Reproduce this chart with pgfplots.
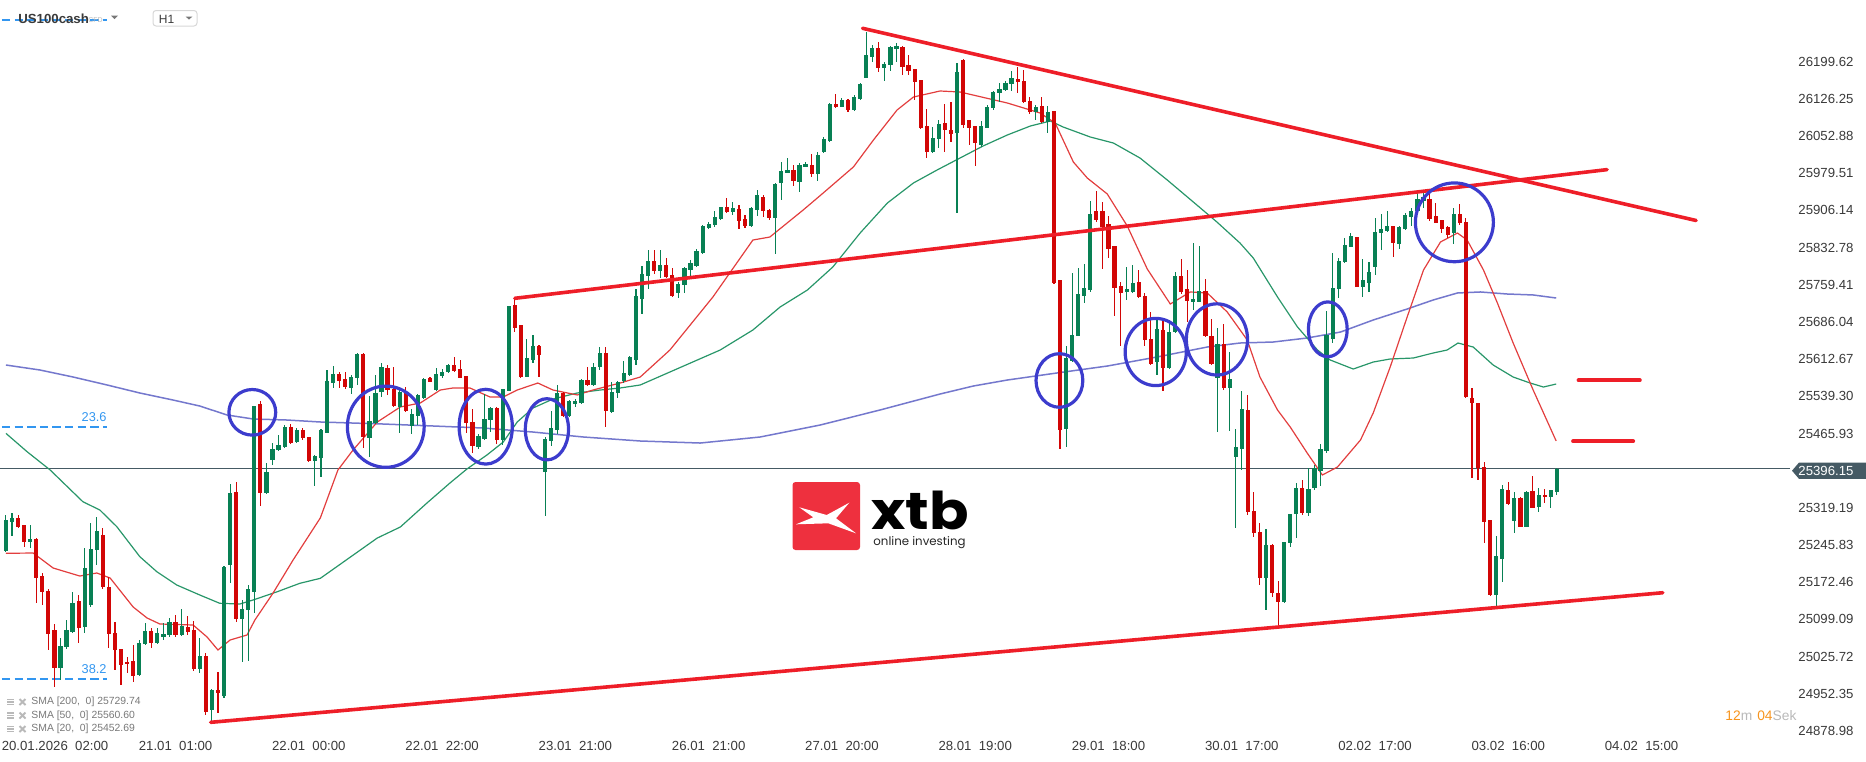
\documentclass[border=0pt]{standalone}
\usepackage{fontspec}
\setmainfont{Liberation Sans}
\newfontfamily\poppins{Poppins}
\usepackage{graphicx}
\usepackage{pgfplots}
\usepackage{pgfplotstable}
\pgfplotsset{compat=1.18}

\definecolor{cgreen}{RGB}{8,128,84}
\definecolor{cred}{RGB}{210,6,6}
\definecolor{tred}{RGB}{238,30,40}
\definecolor{smaA}{RGB}{226,62,62}
\definecolor{smaB}{RGB}{40,150,105}
\definecolor{smaC}{RGB}{92,96,196}
\definecolor{circblue}{RGB}{60,60,205}
\definecolor{fibblue}{RGB}{50,150,240}
\definecolor{slate}{RGB}{69,90,100}
\definecolor{tickgrey}{RGB}{58,58,58}
\definecolor{lgrey}{RGB}{120,120,120}
\definecolor{llgrey}{RGB}{185,185,185}
\definecolor{boxgrey}{RGB}{215,215,215}
\definecolor{orng}{RGB}{247,148,29}
\definecolor{xtbred}{RGB}{238,48,62}

\pgfplotstableread{
n o h l c
-6 25234.7 25305.1 25232.0 25295.2
-5 25291.9 25308.4 25263.7 25298.5
-4 25298.5 25305.1 25278.8 25282.1
-3 25285.4 25286.0 25242.6 25252.5
-2 25252.5 25285.4 25239.3 25257.8
-1 25257.8 25259.1 25130.8 25180.2
0 25184.8 25190.0 25127.6 25153.9
1 25155.2 25158.5 25038.8 25069.7
2 25078.2 25090.1 24966.4 25002.6
3 25002.6 25061.8 24979.6 25046.7
4 25044.0 25098.0 25040.0 25078.2
5 25074.9 25153.9 25072.0 25130.8
6 25135.4 25147.3 25053.2 25081.5
7 25083.5 25239.3 25071.7 25199.9
8 25127.6 25290.0 25124.3 25237.4
9 25236.1 25301.8 25206.5 25274.2
10 25265.6 25278.8 25160.0 25163.7
11 25163.7 25183.4 25042.1 25069.7
12 25071.7 25094.7 24999.3 25038.8
13 25040.8 25041.0 24969.7 25009.2
14 25015.8 25025.6 24992.7 25010.5
15 25017.1 25048.6 24976.3 24987.5
16 24989.5 25058.5 24987.0 25051.9
17 25050.6 25091.4 25048.6 25076.3
18 25076.3 25081.5 25042.1 25051.9
19 25051.9 25081.5 25050.0 25073.0
20 25065.1 25091.4 25058.5 25070.3
21 25068.4 25101.2 25065.1 25094.7
22 25094.7 25107.8 25065.1 25068.4
23 25068.4 25119.0 25066.0 25086.1
24 25084.8 25105.8 25068.4 25074.9
25 25078.2 25096.6 24998.0 25000.6
26 25000.6 25061.8 24994.1 25026.9
27 25026.9 25032.2 24910.5 24917.1
28 24920.4 24961.0 24897.4 24959.9
29 24959.9 24996.0 24915.1 24953.3
30 24948.0 25204.0 24943.4 25203.2
31 25206.5 25365.6 25170.3 25347.8
32 25349.8 25369.5 25094.7 25099.3
33 25099.9 25137.4 25015.8 25119.0
34 25117.7 25167.0 25017.7 25158.5
35 25153.9 25521.0 25111.1 25520.1
36 25523.4 25530.0 25323.5 25349.2
37 25349.2 25407.0 25347.0 25390.6
38 25413.6 25446.5 25403.7 25434.7
39 25433.3 25462.9 25431.0 25443.2
40 25439.9 25482.7 25438.0 25479.4
41 25479.4 25484.0 25445.2 25446.5
42 25448.5 25476.1 25446.5 25472.8
43 25472.8 25476.1 25454.0 25456.4
44 25459.6 25460.0 25410.3 25411.6
45 25412.3 25423.4 25362.3 25421.5
46 25418.2 25474.1 25380.7 25472.8
47 25467.5 25591.1 25466.2 25569.4
48 25564.8 25599.0 25555.0 25582.6
49 25582.6 25587.8 25555.0 25570.1
50 25572.7 25587.8 25553.0 25558.3
51 25555.0 25581.3 25543.1 25578.0
52 25574.7 25625.3 25561.5 25622.7
53 25622.7 25624.0 25436.6 25459.6
54 25456.3 25539.8 25420.2 25490.5
55 25485.9 25581.3 25484.0 25545.1
56 25548.4 25604.3 25538.5 25596.4
57 25595.7 25601.0 25541.8 25551.7
58 25553.7 25597.7 25518.8 25520.8
59 25518.8 25555.0 25467.5 25548.4
60 25546.4 25558.3 25508.9 25510.9
61 25481.3 25514.2 25464.2 25504.3
62 25501.0 25543.8 25482.6 25541.8
63 25536.6 25574.7 25534.6 25572.7
64 25576.0 25578.0 25567.0 25568.1
65 25551.7 25594.4 25550.0 25583.2
66 25580.0 25592.5 25576.0 25587.2
67 25586.5 25602.3 25584.6 25600.3
68 25600.9 25617.4 25588.0 25589.8
69 25592.5 25610.9 25574.7 25576.0
70 25579.3 25580.0 25466.2 25485.9
71 25488.6 25513.5 25426.7 25441.9
72 25439.9 25464.2 25434.6 25460.9
73 25455.7 25543.1 25453.0 25494.5
74 25492.5 25518.8 25469.5 25516.8
75 25516.8 25518.8 25445.1 25453.0
76 25453.0 25554.0 25443.2 25553.7
77 25550.4 25718.0 25549.7 25717.4
78 25719.4 25732.5 25666.8 25674.7
79 25679.9 25681.0 25574.7 25578.0
80 25578.0 25653.0 25576.7 25615.5
81 25610.9 25660.2 25604.3 25638.5
82 25638.5 25640.5 25578.0 25620.7
83 25389.3 25459.6 25303.1 25455.0
84 25451.1 25510.3 25441.2 25476.1
85 25472.8 25561.5 25464.9 25546.4
86 25546.4 25548.4 25499.1 25501.0
87 25501.0 25532.0 25499.1 25530.0
88 25524.1 25533.9 25518.8 25530.0
89 25525.4 25573.0 25524.0 25571.4
90 25571.4 25597.7 25560.2 25561.5
91 25561.5 25605.6 25560.2 25597.7
92 25596.4 25637.2 25591.1 25625.3
93 25625.3 25637.2 25478.0 25510.9
94 25508.9 25568.1 25507.0 25548.4
95 25545.1 25570.0 25535.2 25568.1
96 25570.1 25608.9 25564.8 25584.6
97 25581.3 25618.8 25580.0 25616.1
98 25610.9 25750.3 25601.0 25737.1
99 25731.2 25796.3 25701.6 25780.5
100 25776.6 25827.9 25750.3 25806.8
101 25806.8 25827.9 25780.5 25787.1
102 25787.1 25827.9 25772.0 25798.3
103 25798.3 25812.7 25773.0 25775.2
104 25778.5 25791.7 25735.0 25737.1
105 25742.4 25765.4 25732.5 25760.1
106 25758.8 25795.0 25742.4 25793.0
107 25788.4 25808.1 25775.2 25802.9
108 25796.3 25829.2 25795.0 25826.5
109 25822.6 25877.2 25821.0 25875.9
110 25871.9 25882.4 25868.6 25879.1
111 25877.2 25904.8 25873.9 25893.6
112 25889.0 25913.3 25888.0 25912.0
113 25912.0 25929.8 25900.2 25902.2
114 25903.5 25921.9 25896.9 25910.1
115 25908.1 25916.6 25869.3 25885.7
116 25889.0 25896.9 25870.6 25875.9
117 25875.9 25912.0 25873.9 25910.1
118 25906.8 25946.2 25895.6 25936.4
119 25933.1 25936.4 25893.6 25905.5
120 25906.8 25908.1 25887.0 25891.6
121 25891.6 25959.4 25820.0 25958.1
122 25960.7 26000.8 25926.5 25983.7
123 25980.4 26008.7 25979.1 25985.7
124 25985.7 25995.5 25954.8 25964.0
125 25962.7 26000.1 25942.9 25995.5
126 25992.3 26002.1 25991.0 25997.5
127 25995.5 26016.6 25972.5 25977.8
128 25977.8 26021.8 25964.6 26015.3
129 26021.8 26051.4 26020.0 26046.8
130 26043.5 26117.0 26041.6 26115.9
131 26115.9 26135.6 26109.0 26110.6
132 26110.6 26127.1 26109.3 26123.8
133 26123.8 26125.7 26100.8 26104.0
134 26104.0 26133.6 26102.0 26129.0
135 26125.7 26158.0 26124.0 26155.3
136 26167.8 26258.6 26166.5 26212.6
137 26209.3 26232.3 26199.4 26225.7
138 26225.7 26238.9 26179.7 26187.6
139 26187.6 26199.4 26161.9 26194.8
140 26192.8 26230.0 26181.6 26229.0
141 26224.4 26235.6 26198.1 26231.0
142 26229.0 26230.0 26173.1 26189.5
143 26192.8 26212.6 26173.1 26181.6
144 26184.9 26186.0 26123.8 26159.9
145 26163.2 26164.0 26066.0 26067.9
146 26072.5 26105.4 26008.7 26021.8
147 26021.8 26071.2 26018.6 26048.2
148 26046.2 26084.3 26028.4 26076.4
149 26077.7 26115.9 26021.8 26064.6
150 26064.6 26120.5 26041.6 26056.7
151 26059.3 26196.1 25901.5 26179.7
152 26203.6 26205.0 26069.5 26075.0
153 26084.3 26085.0 26036.0 26069.5
154 26072.6 26073.0 25994.6 26038.3
155 26036.0 26082.8 26032.1 26072.6
156 26069.5 26113.9 26068.0 26110.0
157 26108.5 26141.2 26103.8 26139.7
158 26137.3 26156.8 26119.4 26145.1
159 26143.6 26160.7 26141.2 26156.8
160 26155.3 26181.8 26141.2 26167.0
161 26166.2 26188.0 26137.3 26158.4
162 26160.7 26184.1 26117.8 26119.4
163 26121.7 26129.5 26096.8 26099.9
164 26100.7 26113.9 26085.1 26110.0
165 26111.6 26129.5 26078.9 26081.2
166 26081.2 26111.6 26059.4 26100.7
167 26102.2 26103.0 25761.0 25763.0
168 25768.5 25769.0 25435.5 25472.2
169 25474.5 25638.3 25439.4 25614.9
170 25609.4 25782.5 25607.1 25659.3
171 25659.3 25791.9 25657.8 25742.0
172 25737.3 25799.7 25724.0 25752.9
173 25749.8 25924.5 25745.1 25899.5
174 25905.0 25944.7 25883.9 25887.8
175 25905.7 25922.9 25790.3 25873.8
176 25880.0 25895.6 25811.4 25830.9
177 25835.6 25836.0 25698.3 25752.9
178 25757.6 25765.4 25638.3 25743.5
179 25745.9 25794.2 25729.5 25751.3
180 25745.1 25798.1 25744.0 25763.0
181 25764.6 25788.8 25734.2 25735.7
182 25737.3 25743.5 25638.3 25650.0
183 25651.5 25706.1 25600.8 25603.2
184 25607.1 25689.0 25581.3 25671.8
185 25669.5 25692.9 25550.1 25595.4
186 25595.4 25690.5 25593.8 25667.1
187 25665.6 25784.1 25664.0 25776.3
188 25776.3 25809.8 25742.0 25745.1
189 25751.3 25788.8 25685.1 25726.4
190 25724.8 25841.0 25710.0 25731.1
191 25726.4 25835.6 25725.0 25747.4
192 25747.4 25770.8 25656.0 25657.8
193 25659.3 25692.9 25601.6 25603.2
194 25575.9 25673.4 25469.1 25642.2
195 25642.2 25681.2 25552.5 25554.8
196 25554.8 25626.6 25470.6 25573.5
197 25419.9 25474.5 25279.6 25439.4
198 25435.5 25550.1 25394.0 25513.5
199 25512.3 25541.9 25305.1 25311.7
200 25313.0 25351.2 25262.4 25269.0
201 25272.2 25290.0 25167.0 25180.2
202 25180.2 25277.5 25117.7 25245.9
203 25245.9 25247.0 25144.0 25150.6
204 25151.9 25174.9 25084.8 25132.8
205 25132.8 25252.5 25131.0 25251.2
206 25250.5 25307.0 25242.7 25306.4
207 25306.4 25368.9 25259.1 25359.1
208 25359.1 25374.2 25305.1 25308.4
209 25308.4 25397.2 25303.8 25356.4
210 25357.7 25403.8 25354.4 25397.2
211 25391.9 25444.5 25362.3 25435.3
212 25431.4 25707.6 25426.8 25660.2
213 25651.7 25821.3 25643.8 25752.3
214 25750.3 25811.5 25732.6 25806.2
215 25803.6 25850.9 25801.6 25837.8
216 25834.5 25860.8 25833.0 25855.5
217 25852.9 25854.2 25754.3 25755.6
218 25755.6 25809.5 25734.5 25768.7
219 25763.5 25804.9 25745.7 25785.2
220 25793.7 25890.4 25778.6 25862.8
221 25860.8 25898.9 25827.9 25869.3
222 25866.1 25904.9 25862.8 25875.3
223 25875.3 25876.0 25814.8 25841.1
224 25839.8 25875.3 25829.2 25872.6
225 25869.3 25900.3 25867.4 25897.0
226 25893.7 25910.1 25875.3 25904.9
227 25904.9 25939.7 25903.5 25927.9
228 25925.2 25943.0 25910.1 25933.1
229 25927.9 25937.7 25885.8 25888.4
230 25895.0 25920.0 25880.5 25881.8
231 25887.1 25888.0 25860.8 25869.3
232 25874.0 25875.0 25850.9 25857.5
233 25860.8 25910.1 25839.8 25898.9
234 25898.9 25918.7 25877.2 25880.5
235 25883.8 25890.4 25535.3 25538.6
236 25535.3 25555.0 25377.5 25525.4
237 25525.4 25526.0 25374.2 25397.2
238 25399.2 25410.3 25250.5 25292.0
239 25295.3 25296.0 25145.0 25147.3
240 25147.3 25263.7 25124.3 25224.2
241 25217.7 25364.3 25173.6 25355.8
242 25354.5 25370.0 25324.9 25326.2
243 25294.0 25349.9 25270.3 25338.0
244 25338.0 25340.0 25281.0 25282.1
245 25282.1 25352.0 25281.0 25349.9
246 25352.5 25382.1 25318.3 25319.6
247 25320.3 25357.8 25310.4 25344.6
248 25344.6 25355.8 25328.2 25340.0
249 25341.3 25355.0 25318.3 25354.5
250 25351.2 25397.0 25344.6 25396.15
}\candles

\pgfplotsset{candle/.style={only marks, mark=*, mark size=0pt, mark options={draw=none, fill=none}, forget plot}}

\begin{document}
\begin{tikzpicture}
\useasboundingbox (0,0) rectangle (933pt,-380.5pt);
\begin{axis}[
  at={(0pt,0pt)}, anchor=north west,
  scale only axis, width=895pt, height=368pt,
  xmin=-6.98, xmax=288.5, ymin=24869.1, ymax=26321.1,
  axis line style={draw=none}, tick style={draw=none}, major tick length=0pt,
  scaled x ticks=false, scaled y ticks=false,
  xtick={2.1,22,44,66,88,110,132,154,176,198,220,242,264},
  xticklabels={20.01.2026\ \ 02:00,21.01\ \ 01:00,22.01\ \ 00:00,22.01\ \ 22:00,23.01\ \ 21:00,26.01\ \ 21:00,27.01\ \ 20:00,28.01\ \ 19:00,29.01\ \ 18:00,30.01\ \ 17:00,02.02\ \ 17:00,03.02\ \ 16:00,04.02\ \ 15:00},
  ytick={26199.62,26126.25,26052.88,25979.51,25906.14,25832.78,25759.41,25686.04,25612.67,25539.30,25465.93,25319.19,25245.83,25172.46,25099.09,25025.72,24952.35,24878.98},
  yticklabels={26199.62,26126.25,26052.88,25979.51,25906.14,25832.78,25759.41,25686.04,25612.67,25539.30,25465.93,25319.19,25245.83,25172.46,25099.09,25025.72,24952.35,24878.98},
  yticklabel pos=right,
  ticklabel style={font=\fontsize{6.6}{8}\selectfont, text=tickgrey, inner sep=0pt},
  yticklabel style={anchor=west, xshift=4pt},
  xticklabel style={anchor=north, yshift=-2.5pt},
  /pgf/number format/assume math mode=true,
]
% Fibonacci levels
\addplot[fibblue, line width=0.6pt, dash pattern=on 4.2pt off 2.1pt] coordinates {(-6.65,26281.6) (10.7,26281.6)};
\addplot[fibblue, line width=0.6pt, dash pattern=on 4.2pt off 2.1pt] coordinates {(-6.65,25478.7) (10.7,25478.7)};
\addplot[fibblue, line width=0.6pt, dash pattern=on 4.2pt off 2.1pt] coordinates {(-6.65,24981.6) (10.7,24981.6)};
% current price line
\addplot[slate, line width=0.6pt] coordinates {(-6.98,25396.15) (288.5,25396.15)};
% SMA 200
\addplot[smaC, line width=0.75pt, opacity=0.85] coordinates {
(-6.0,25601.0) (-0.4,25591.2) (5.1,25577.3) (10.7,25561.6) (16.1,25545.8) (21.6,25531.9) (26.0,25520.1) (30.5,25502.4) (34.8,25494.5) (40.4,25492.5) (45.9,25488.6) (56.3,25484.6) (64.5,25480.7) (72.8,25476.7) (81.0,25468.8) (89.3,25459.0) (98.7,25451.1) (108.6,25447.1) (118.5,25459.0) (128.4,25482.6) (138.3,25512.3) (148.2,25543.8) (153.7,25559.6) (159.3,25571.4) (167.5,25585.3) (175.8,25599.0) (184.0,25616.8) (192.3,25636.5) (197.7,25644.4) (203.2,25646.4) (208.8,25654.3) (214.3,25666.1) (219.7,25689.8) (225.3,25711.5) (229.6,25729.3) (233.6,25743.1) (237.4,25745.1) (241.8,25741.1) (246.1,25739.2) (249.9,25733.2)};
% SMA 50
\addplot[smaB, line width=0.6pt] coordinates {
(-6.0,25466.2) (-2.5,25429.9) (1.3,25393.9) (6.7,25331.3) (9.5,25315.0) (12.3,25282.1) (16.1,25222.9) (18.9,25193.3) (22.2,25167.0) (26.0,25147.3) (29.3,25130.9) (32.6,25129.5) (34.8,25137.4) (38.8,25153.8) (42.5,25170.3) (45.9,25180.2) (55.3,25259.7) (59.1,25281.4) (63.5,25328.8) (67.3,25368.3) (70.1,25395.9) (73.4,25423.5) (76.1,25449.1) (78.4,25488.6) (81.0,25516.2) (84.3,25533.9) (88.3,25545.8) (92.1,25551.7) (95.4,25555.7) (98.7,25561.6) (111.9,25630.6) (117.3,25670.1) (121.8,25715.5) (126.3,25749.0) (130.5,25794.4) (135.0,25861.4) (139.5,25920.6) (143.8,25960.1) (147.7,25985.7) (151.5,26009.4) (155.3,26033.1) (159.3,26054.8) (163.1,26072.5) (166.4,26082.4) (168.5,26070.6) (173.0,26050.8) (176.8,26039.0) (181.2,26009.4) (185.7,25966.0) (190.0,25922.6) (193.9,25883.1) (197.7,25841.7) (199.9,25812.1) (203.9,25735.2) (207.2,25676.0) (210.5,25630.6) (212.6,25610.9) (216.4,25593.1) (219.7,25606.9) (222.5,25612.9) (226.3,25614.8) (229.6,25624.7) (231.9,25630.6) (233.7,25644.4) (236.2,25636.5) (239.5,25601.0) (242.8,25577.3) (245.6,25565.5) (247.8,25557.6) (249.9,25563.5)};
% SMA 20
\addplot[smaA, line width=0.6pt] coordinates {
(-6.0,25229.6) (-1.5,25230.1) (1.8,25200.5) (6.2,25184.7) (9.0,25190.7) (11.2,25180.8) (15.0,25123.6) (17.3,25101.9) (19.4,25090.1) (24.9,25088.1) (27.2,25064.4) (29.0,25038.8) (31.0,25058.5) (33.8,25068.4) (35.1,25098.0) (38.1,25151.2) (41.4,25216.3) (45.9,25299.4) (48.8,25393.9) (51.3,25433.3) (55.3,25488.6) (59.1,25518.2) (62.4,25526.1) (65.7,25551.7) (67.8,25555.7) (70.6,25555.7) (73.9,25537.9) (76.1,25537.9) (78.4,25551.7) (81.8,25565.5) (84.3,25551.7) (88.3,25541.9) (90.9,25551.7) (95.4,25565.5) (98.7,25577.3) (103.6,25630.6) (110.7,25735.2) (117.3,25847.6) (120.1,25853.5) (125.6,25906.8) (128.9,25940.3) (133.9,25991.8) (137.2,26044.9) (141.1,26104.1) (143.8,26129.7) (148.2,26141.6) (151.5,26139.6) (159.3,26117.9) (164.7,26098.2) (167.2,26078.4) (170.2,26001.5) (172.5,25969.9) (175.8,25938.4) (179.1,25875.2) (182.4,25790.4) (186.2,25721.4) (189.5,25745.1) (192.3,25743.1) (195.6,25705.6) (198.9,25650.4) (201.0,25577.3) (203.9,25512.3) (206.0,25478.7) (208.8,25427.4) (211.3,25384.0) (213.8,25399.8) (217.6,25453.1) (219.7,25506.4) (222.5,25597.1) (225.3,25695.7) (228.0,25788.4) (230.8,25843.7) (233.6,25861.4) (235.2,25847.6) (237.9,25788.4) (240.2,25723.3) (242.8,25644.4) (246.1,25551.7) (249.9,25451.1)};
% candles: wicks
\addplot[candle,
  restrict expr to domain={\thisrow{c}-\thisrow{o}}{0:100000},
  error bars/.cd, y dir=both, y explicit, error mark=none,
  error bar style={line width=0.55pt, draw=cgreen}]
  table[x=n, y expr={(\thisrow{h}+\thisrow{l})/2}, y error expr={(\thisrow{h}-\thisrow{l})/2}] {\candles};
\addplot[candle,
  restrict expr to domain={\thisrow{c}-\thisrow{o}}{-100000:-0.001},
  error bars/.cd, y dir=both, y explicit, error mark=none,
  error bar style={line width=0.55pt, draw=cred}]
  table[x=n, y expr={(\thisrow{h}+\thisrow{l})/2}, y error expr={(\thisrow{h}-\thisrow{l})/2}] {\candles};
% candles: bodies
\addplot[candle,
  restrict expr to domain={\thisrow{c}-\thisrow{o}}{0:100000},
  error bars/.cd, y dir=both, y explicit, error mark=none,
  error bar style={line width=2.1pt, draw=cgreen}]
  table[x=n, y expr={(\thisrow{o}+\thisrow{c})/2}, y error expr={max(abs(\thisrow{c}-\thisrow{o})/2,1.2)}] {\candles};
\addplot[candle,
  restrict expr to domain={\thisrow{c}-\thisrow{o}}{-100000:-0.001},
  error bars/.cd, y dir=both, y explicit, error mark=none,
  error bar style={line width=2.1pt, draw=cred}]
  table[x=n, y expr={(\thisrow{o}+\thisrow{c})/2}, y error expr={max(abs(\thisrow{c}-\thisrow{o})/2,1.2)}] {\candles};
% trend lines
\addplot[tred, line width=1.8pt, line cap=round] coordinates {(27.8,24896.1) (267.5,25151.8)};
\addplot[tred, line width=1.8pt, line cap=round] coordinates {(78.0,25732.6) (258.3,25986.5)};
\addplot[tred, line width=1.8pt, line cap=round] coordinates {(135.4,26265.3) (273.0,25886.1)};
\addplot[tred, line width=2pt, line cap=round] coordinates {(253.6,25570.8) (263.7,25570.8)};
\addplot[tred, line width=2pt, line cap=round] coordinates {(252.7,25450.5) (262.6,25450.5)};
% circles
\draw[circblue, line width=1.6pt] (axis cs:34.67,25507.7) ellipse [x radius=11.7pt, y radius=11.4pt];
\draw[circblue, line width=1.6pt] (axis cs:56.7,25479.3) ellipse [x radius=19.2pt, y radius=20.3pt];
\draw[circblue, line width=1.6pt] (axis cs:73.2,25479.3) ellipse [x radius=13.3pt, y radius=18.7pt];
\draw[circblue, line width=1.6pt] (axis cs:83.3,25474.2) ellipse [x radius=10.8pt, y radius=15.3pt];
\draw[circblue, line width=1.6pt] (axis cs:167.9,25570.5) ellipse [x radius=11.7pt, y radius=13.4pt];
\draw[circblue, line width=1.6pt] (axis cs:183.8,25626.7) ellipse [x radius=15.3pt, y radius=16.8pt];
\draw[circblue, line width=1.6pt] (axis cs:193.9,25651.5) ellipse [x radius=15.3pt, y radius=17.8pt];
\draw[circblue, line width=1.6pt] (axis cs:212.2,25671.5) ellipse [x radius=9.7pt, y radius=13.7pt];
\draw[circblue, line width=1.6pt] (axis cs:233.1,25882.5) ellipse [x radius=19.5pt, y radius=19.7pt];
\end{axis}

\begin{scope}[x=0.5pt,y=-0.5pt]
% header
\node[anchor=west, inner sep=0pt, font=\bfseries\fontsize{6.6}{8}\selectfont, text=tickgrey] at (18,18.5) {US100cash};
\node[anchor=west, inner sep=0pt, font=\fontsize{3.5}{4}\selectfont, text=llgrey] at (88,20) {CFD};
\fill[lgrey] (111,15.5) -- (118,15.5) -- (114.5,19) -- cycle;
\draw[boxgrey, rounded corners=1.5pt, line width=0.5pt] (153,10.5) rectangle (197,26);
\node[anchor=west, inner sep=0pt, font=\fontsize{6}{7}\selectfont, text=tickgrey] at (158.5,19) {H1};
\fill[lgrey] (185.5,16.5) -- (192.5,16.5) -- (189,19.5) -- cycle;
% fib labels
\node[anchor=east, inner sep=0pt, font=\fontsize{6.4}{7.5}\selectfont, text=fibblue] at (107,417) {23.6};
\node[anchor=east, inner sep=0pt, font=\fontsize{6.4}{7.5}\selectfont, text=fibblue] at (107,669) {38.2};
% legend
\foreach \yy/\txt in {702/{SMA [200,\ \ 0] 25729.74}, 715.5/{SMA [50,\ \ 0] 25560.60}, 729/{SMA [20,\ \ 0] 25452.69}} {
  \fill[llgrey] (7,\yy-3.2) rectangle (14,\yy-1.8);
  \fill[llgrey] (7,\yy-0.7) rectangle (14,\yy+0.7);
  \fill[llgrey] (7,\yy+1.8) rectangle (14,\yy+3.2);
  \draw[llgrey, line width=0.9pt] (19.5,\yy-3) -- (25.5,\yy+3) (19.5,\yy+3) -- (25.5,\yy-3);
  \node[anchor=west, inner sep=0pt, font=\fontsize{5.2}{6.2}\selectfont, text=lgrey] at (31,\yy) {\txt};
}
% countdown
\node[anchor=west, inner sep=0pt, font=\fontsize{6.9}{8}\selectfont] at (1725,716) {\textcolor{orng}{12}\textcolor{llgrey}{m}\hspace{2.5pt}\textcolor{orng}{04}\textcolor{llgrey}{Sek}};
% price label
\fill[slate] (1792,470.7) -- (1799,462.5) -- (1866,462.5) -- (1866,478.9) -- (1799,478.9) -- cycle;
\node[anchor=west, inner sep=0pt, font=\fontsize{6.6}{8}\selectfont, text=white] at (1798,470.7) {25396.15};
% xtb logo
\fill[xtbred, rounded corners=1.5pt] (792.5,482) rectangle (860,550);
\fill[white] (799.3,507.3) -- (826.7,515) -- (849.3,502.7) -- (836,518.3) -- (856,533.3) -- (828.3,523.3) -- (796,524.3) -- (813.3,517.3) -- cycle;
\node[anchor=base west, inner sep=0pt, font=\poppins\bfseries\fontsize{26}{30}\selectfont] at (871,529) {\scalebox{1.12}[1]{xtb}};
\node[anchor=base west, inner sep=0pt, font=\poppins\fontsize{5.9}{7}\selectfont, text=black!85] at (873,545) {online investing};
\end{scope}
\end{tikzpicture}
\end{document}
